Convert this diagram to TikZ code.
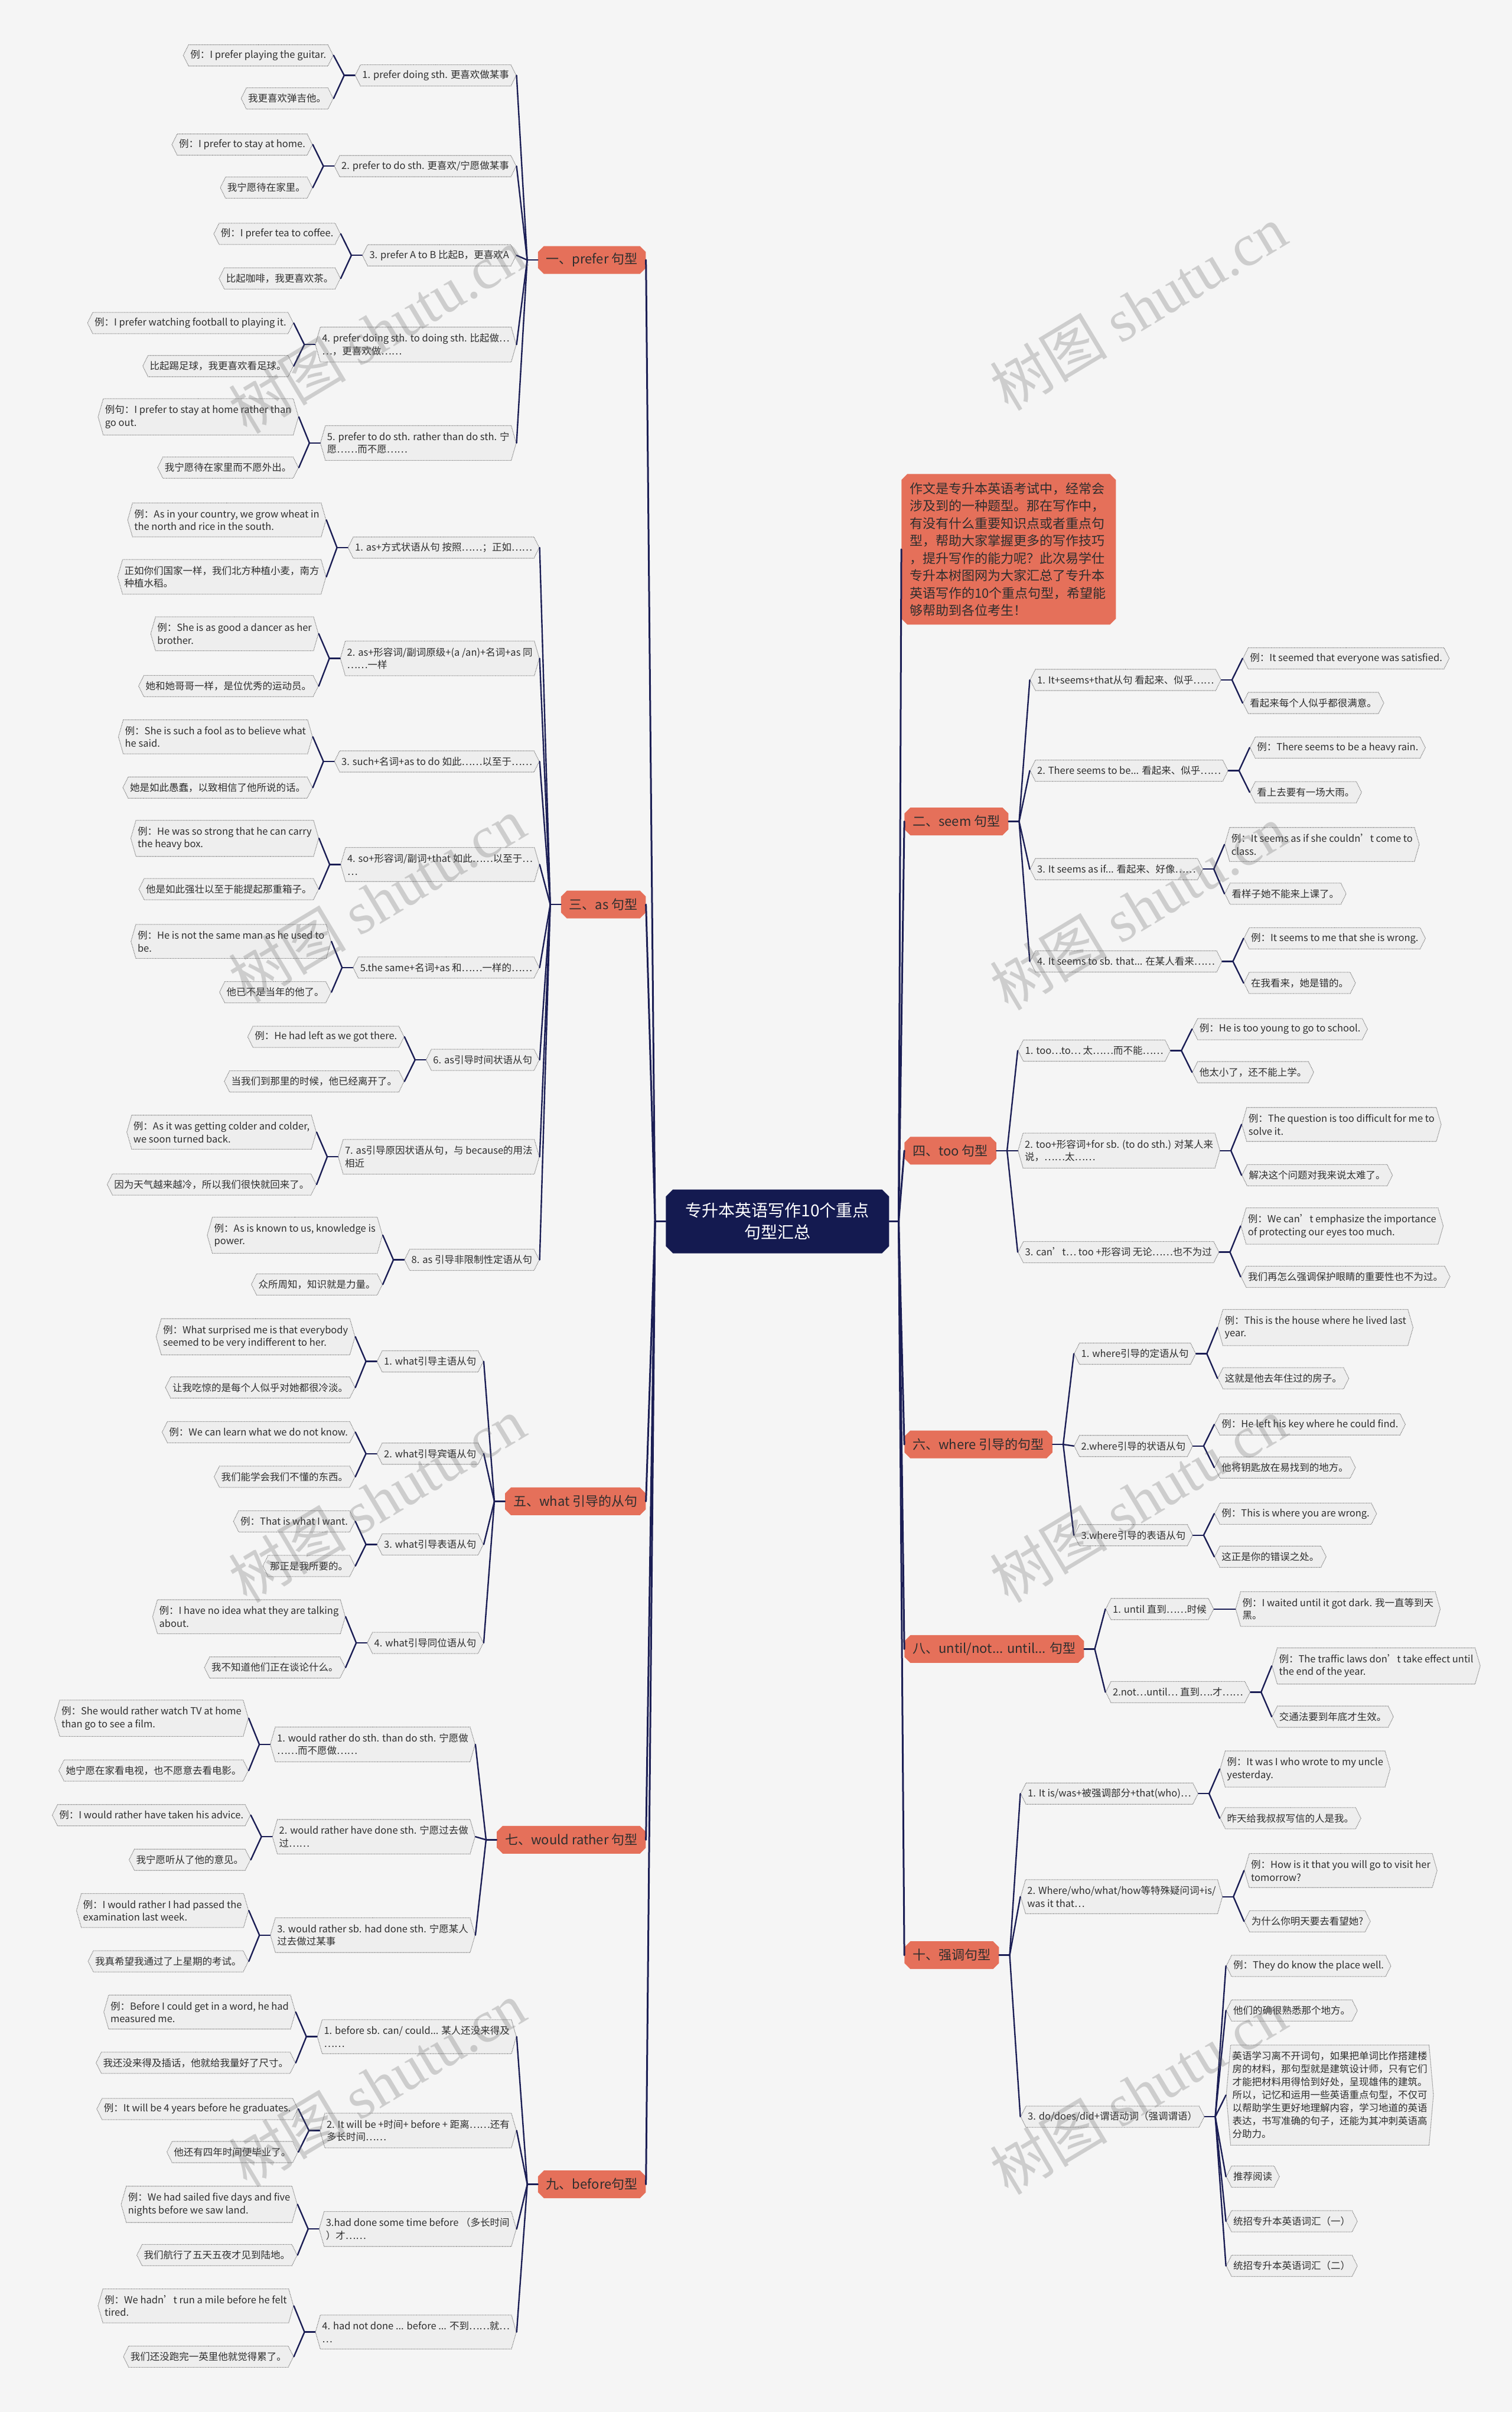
\documentclass[tikz,border=0pt]{standalone}
\usepackage{fontspec}
\setmainfont{Noto Sans CJK SC}
\newfontfamily\wmlatin{Liberation Serif}
\usetikzlibrary{shapes.symbols,shapes.misc}

\definecolor{paper}{HTML}{F5F5F5}
\definecolor{leafgray}{HTML}{EEEEEE}
\definecolor{edgegray}{HTML}{8C8C8C}
\definecolor{coral}{HTML}{E5705A}
\definecolor{navy}{HTML}{1B1E55}
\definecolor{rootnavy}{HTML}{141A50}
\definecolor{ink}{HTML}{2E2E2E}

\tikzset{
  hexa/.style={signal, signal to=east and west, signal pointer angle=127,
    draw=edgegray, fill=leafgray, line width=1.1pt, dash pattern=on 1.6pt off 1pt,
    text=ink, font=\fontsize{16.5}{21.5}\selectfont, align=left,
    inner xsep=3pt, inner ysep=8pt, minimum height=36pt},
  tall/.style={signal pointer angle=148, inner ysep=11pt},
  kidL/.style={hexa, anchor=east, xshift=-36pt},
  kidR/.style={hexa, anchor=west, xshift=36pt},
  branch/.style={chamfered rectangle, chamfered rectangle xsep=5pt,
    chamfered rectangle ysep=5pt, fill=coral, text=ink,
    font=\fontsize{22}{29}\selectfont, minimum height=47pt, inner xsep=9pt},
  root/.style={chamfered rectangle, chamfered rectangle xsep=6pt,
    chamfered rectangle ysep=6pt, fill=rootnavy, text=white, align=center,
    font=\fontsize{28}{37}\selectfont, minimum width=378pt, minimum height=108pt},
  link/.style={draw=navy, line width=2.4pt, line cap=round},
  trunk/.style={draw=navy, line width=3pt, line cap=round},
  wmark/.style={rotate=31, text=black!60, text opacity=0.28,
    font=\fontsize{100}{100}\selectfont},
}

\newcommand{\forkL}[2]{%
  \draw[link] (#1.west) -- ++(-18pt,0) coordinate (#1j);
  \foreach \k in {#2}{\draw[link] (#1j) -- (\k.east);}%
}
\newcommand{\forkR}[2]{%
  \draw[link] (#1.east) -- ++(18pt,0) coordinate (#1j);
  \foreach \k in {#2}{\draw[link] (#1j) -- (\k.west);}%
}

\begin{document}
\begin{tikzpicture}[x=2.604pt,y=-2.604pt]
\useasboundingbox (0,0) rectangle (983,1568);
\fill[paper] (0,0) rectangle (983,1568);

\node[root] (root) at (505.5,794) {专升本英语写作10个重点\\句型汇总};

\node[branch,anchor=east] (br1) at (420,169) {一、prefer 句型};
\node[branch,anchor=east] (br3) at (420,588) {三、as 句型};
\node[branch,anchor=east] (br5) at (420,976) {五、what 引导的从句};
\node[branch,anchor=east] (br7) at (420,1196) {七、would rather 句型};
\node[branch,anchor=east] (br9) at (420,1420) {九、before句型};

\node[branch,anchor=north west,align=left,text width=335pt,inner ysep=9pt,
  font=\fontsize{22}{29.5}\selectfont] (intro) at (588,310)
  {作文是专升本英语考试中，经常会\\涉及到的一种题型。那在写作中，\\有没有什么重要知识点或者重点句\\型，帮助大家掌握更多的写作技巧\\，提升写作的能力呢？此次易学仕\\专升本树图网为大家汇总了专升本\\英语写作的10个重点句型，希望能\\够帮助到各位考生！};
\node[branch,anchor=west] (br2) at (588,534) {二、seem 句型};
\node[branch,anchor=west] (br4) at (588,748) {四、too 句型};
\node[branch,anchor=west] (br6) at (588,939) {六、where 引导的句型};
\node[branch,anchor=west] (br8) at (588,1072) {八、until/not... until... 句型};
\node[branch,anchor=west] (br10) at (588,1271) {十、强调句型};

% prefer
\node[kidL] (p1) at (br1.west |- 0,49) {1. prefer doing sth. 更喜欢做某事};
\node[kidL] (p2) at (br1.west |- 0,108) {2. prefer to do sth. 更喜欢/宁愿做某事};
\node[kidL] (p3) at (br1.west |- 0,166) {3. prefer A to B 比起B，更喜欢A};
\node[kidL,tall] (p4) at (br1.west |- 0,224) {4. prefer doing sth. to doing sth. 比起做…\\…，更喜欢做……};
\node[kidL,tall] (p5) at (br1.west |- 0,288) {5. prefer to do sth. rather than do sth. 宁\\愿……而不愿……};
\node[kidL] (p1a) at (p1.west |- 0,36) {例：I prefer playing the guitar.};
\node[kidL] (p1b) at (p1.west |- 0,64) {我更喜欢弹吉他。};
\node[kidL] (p2a) at (p2.west |- 0,94) {例：I prefer to stay at home.};
\node[kidL] (p2b) at (p2.west |- 0,122) {我宁愿待在家里。};
\node[kidL] (p3a) at (p3.west |- 0,152) {例：I prefer tea to coffee.};
\node[kidL] (p3b) at (p3.west |- 0,181) {比起咖啡，我更喜欢茶。};
\node[kidL] (p4a) at (p4.west |- 0,210) {例：I prefer watching football to playing it.};
\node[kidL] (p4b) at (p4.west |- 0,238) {比起踢足球，我更喜欢看足球。};
\node[kidL,tall] (p5a) at (p5.west |- 0,271) {例句：I prefer to stay at home rather than\\go out.};
\node[kidL] (p5b) at (p5.west |- 0,304) {我宁愿待在家里而不愿外出。};

% as
\node[kidL] (a1) at (br3.west |- 0,356) {1. as+方式状语从句 按照……；正如……};
\node[kidL,tall] (a2) at (br3.west |- 0,428) {2. as+形容词/副词原级+(a /an)+名词+as 同\\……一样};
\node[kidL] (a3) at (br3.west |- 0,495) {3. such+名词+as to do 如此……以至于……};
\node[kidL,tall] (a4) at (br3.west |- 0,562) {4. so+形容词/副词+that 如此……以至于…\\…};
\node[kidL] (a5) at (br3.west |- 0,629) {5.the same+名词+as 和……一样的……};
\node[kidL] (a6) at (br3.west |- 0,689) {6. as引导时间状语从句};
\node[kidL,tall] (a7) at (br3.west |- 0,752) {7. as引导原因状语从句，与 because的用法\\相近};
\node[kidL] (a8) at (br3.west |- 0,819) {8. as 引导非限制性定语从句};
\node[kidL,tall] (a1a) at (a1.west |- 0,338) {例：As in your country, we grow wheat in\\the north and rice in the south.};
\node[kidL,tall] (a1b) at (a1.west |- 0,375) {正如你们国家一样，我们北方种植小麦，南方\\种植水稻。};
\node[kidL,tall] (a2a) at (a2.west |- 0,412) {例：She is as good a dancer as her\\brother.};
\node[kidL] (a2b) at (a2.west |- 0,446) {她和她哥哥一样，是位优秀的运动员。};
\node[kidL,tall] (a3a) at (a3.west |- 0,479) {例：She is such a fool as to believe what\\he said.};
\node[kidL] (a3b) at (a3.west |- 0,512) {她是如此愚蠢，以致相信了他所说的话。};
\node[kidL,tall] (a4a) at (a4.west |- 0,545) {例：He was so strong that he can carry\\the heavy box.};
\node[kidL] (a4b) at (a4.west |- 0,578) {他是如此强壮以至于能提起那重箱子。};
\node[kidL,tall] (a5a) at (a5.west |- 0,612) {例：He is not the same man as he used to\\be.};
\node[kidL] (a5b) at (a5.west |- 0,645) {他已不是当年的他了。};
\node[kidL] (a6a) at (a6.west |- 0,674) {例：He had left as we got there.};
\node[kidL] (a6b) at (a6.west |- 0,703) {当我们到那里的时候，他已经离开了。};
\node[kidL,tall] (a7a) at (a7.west |- 0,736) {例：As it was getting colder and colder,\\we soon turned back.};
\node[kidL] (a7b) at (a7.west |- 0,770) {因为天气越来越冷，所以我们很快就回来了。};
\node[kidL,tall] (a8a) at (a8.west |- 0,803) {例：As is known to us, knowledge is\\power.};
\node[kidL] (a8b) at (a8.west |- 0,835) {众所周知，知识就是力量。};

% what
\node[kidL] (w1) at (br5.west |- 0,885) {1. what引导主语从句};
\node[kidL] (w2) at (br5.west |- 0,945) {2. what引导宾语从句};
\node[kidL] (w3) at (br5.west |- 0,1004) {3. what引导表语从句};
\node[kidL] (w4) at (br5.west |- 0,1068) {4. what引导同位语从句};
\node[kidL,tall] (w1a) at (w1.west |- 0,869) {例：What surprised me is that everybody\\seemed to be very indifferent to her.};
\node[kidL] (w1b) at (w1.west |- 0,902) {让我吃惊的是每个人似乎对她都很冷淡。};
\node[kidL] (w2a) at (w2.west |- 0,931) {例：We can learn what we do not know.};
\node[kidL] (w2b) at (w2.west |- 0,960) {我们能学会我们不懂的东西。};
\node[kidL] (w3a) at (w3.west |- 0,989) {例：That is what I want.};
\node[kidL] (w3b) at (w3.west |- 0,1018) {那正是我所要的。};
\node[kidL,tall] (w4a) at (w4.west |- 0,1051) {例：I have no idea what they are talking\\about.};
\node[kidL] (w4b) at (w4.west |- 0,1084) {我不知道他们正在谈论什么。};

% would rather
\node[kidL,tall] (r1) at (br7.west |- 0,1134) {1. would rather do sth. than do sth. 宁愿做\\……而不愿做……};
\node[kidL,tall] (r2) at (br7.west |- 0,1194) {2. would rather have done sth. 宁愿过去做\\过……};
\node[kidL,tall] (r3) at (br7.west |- 0,1258) {3. would rather sb. had done sth. 宁愿某人\\过去做过某事};
\node[kidL,tall] (r1a) at (r1.west |- 0,1117) {例：She would rather watch TV at home\\than go to see a film.};
\node[kidL] (r1b) at (r1.west |- 0,1151) {她宁愿在家看电视，也不愿意去看电影。};
\node[kidL] (r2a) at (r2.west |- 0,1180) {例：I would rather have taken his advice.};
\node[kidL] (r2b) at (r2.west |- 0,1209) {我宁愿听从了他的意见。};
\node[kidL,tall] (r3a) at (r3.west |- 0,1242) {例：I would rather I had passed the\\examination last week.};
\node[kidL] (r3b) at (r3.west |- 0,1275) {我真希望我通过了上星期的考试。};

% before
\node[kidL,tall] (b1) at (br9.west |- 0,1324) {1. before sb. can/ could... 某人还没来得及\\……};
\node[kidL,tall] (b2) at (br9.west |- 0,1385) {2. It will be +时间+ before + 距离……还有\\多长时间……};
\node[kidL,tall] (b3) at (br9.west |- 0,1449) {3.had done some time before （多长时间\\）才……};
\node[kidL,tall] (b4) at (br9.west |- 0,1516) {4. had not done ... before ... 不到……就…\\…};
\node[kidL,tall] (b1a) at (b1.west |- 0,1308) {例：Before I could get in a word, he had\\measured me.};
\node[kidL] (b1b) at (b1.west |- 0,1341) {我还没来得及插话，他就给我量好了尺寸。};
\node[kidL] (b2a) at (b2.west |- 0,1371) {例：It will be 4 years before he graduates.};
\node[kidL] (b2b) at (b2.west |- 0,1399) {他还有四年时间便毕业了。};
\node[kidL,tall] (b3a) at (b3.west |- 0,1433) {例：We had sailed five days and five\\nights before we saw land.};
\node[kidL] (b3b) at (b3.west |- 0,1466) {我们航行了五天五夜才见到陆地。};
\node[kidL,tall] (b4a) at (b4.west |- 0,1499) {例：We hadn’t run a mile before he felt\\tired.};
\node[kidL] (b4b) at (b4.west |- 0,1532) {我们还没跑完一英里他就觉得累了。};

% seem
\node[kidR] (s1) at (br2.east |- 0,442) {1. It+seems+that从句 看起来、似乎……};
\node[kidR] (s2) at (br2.east |- 0,501) {2. There seems to be... 看起来、似乎……};
\node[kidR] (s3) at (br2.east |- 0,565) {3. It seems as if... 看起来、好像……};
\node[kidR] (s4) at (br2.east |- 0,625) {4. It seems to sb. that... 在某人看来……};
\node[kidR] (s1a) at (s1.east |- 0,428) {例：It seemed that everyone was satisfied.};
\node[kidR] (s1b) at (s1.east |- 0,457) {看起来每个人似乎都很满意。};
\node[kidR] (s2a) at (s2.east |- 0,486) {例：There seems to be a heavy rain.};
\node[kidR] (s2b) at (s2.east |- 0,515) {看上去要有一场大雨。};
\node[kidR,tall] (s3a) at (s3.east |- 0,549) {例：It seems as if she couldn’t come to\\class.};
\node[kidR] (s3b) at (s3.east |- 0,581) {看样子她不能来上课了。};
\node[kidR] (s4a) at (s4.east |- 0,610) {例：It seems to me that she is wrong.};
\node[kidR] (s4b) at (s4.east |- 0,639) {在我看来，她是错的。};

% too
\node[kidR] (t1) at (br4.east |- 0,683) {1. too…to… 太……而不能……};
\node[kidR,tall] (t2) at (br4.east |- 0,748) {2. too+形容词+for sb. (to do sth.) 对某人来\\说，……太……};
\node[kidR] (t3) at (br4.east |- 0,814) {3. can’t… too +形容词 无论……也不为过};
\node[kidR] (t1a) at (t1.east |- 0,669) {例：He is too young to go to school.};
\node[kidR] (t1b) at (t1.east |- 0,697) {他太小了，还不能上学。};
\node[kidR,tall] (t2a) at (t2.east |- 0,731) {例：The question is too difficult for me to\\solve it.};
\node[kidR] (t2b) at (t2.east |- 0,764) {解决这个问题对我来说太难了。};
\node[kidR,tall] (t3a) at (t3.east |- 0,797) {例：We can’t emphasize the importance\\of protecting our eyes too much.};
\node[kidR] (t3b) at (t3.east |- 0,830) {我们再怎么强调保护眼睛的重要性也不为过。};

% where
\node[kidR] (h1) at (br6.east |- 0,880) {1. where引导的定语从句};
\node[kidR] (h2) at (br6.east |- 0,940) {2.where引导的状语从句};
\node[kidR] (h3) at (br6.east |- 0,998) {3.where引导的表语从句};
\node[kidR,tall] (h1a) at (h1.east |- 0,863) {例：This is the house where he lived last\\year.};
\node[kidR] (h1b) at (h1.east |- 0,896) {这就是他去年住过的房子。};
\node[kidR] (h2a) at (h2.east |- 0,926) {例：He left his key where he could find.};
\node[kidR] (h2b) at (h2.east |- 0,954) {他将钥匙放在易找到的地方。};
\node[kidR] (h3a) at (h3.east |- 0,984) {例：This is where you are wrong.};
\node[kidR] (h3b) at (h3.east |- 0,1012) {这正是你的错误之处。};

% until
\node[kidR] (u1) at (br8.east |- 0,1046) {1. until 直到……时候};
\node[kidR] (u2) at (br8.east |- 0,1100) {2.not…until… 直到….才……};
\node[kidR,tall] (u1a) at (u1.east |- 0,1046) {例：I waited until it got dark. 我一直等到天\\黑。};
\node[kidR,tall] (u2a) at (u2.east |- 0,1083) {例：The traffic laws don’t take effect until\\the end of the year.};
\node[kidR] (u2b) at (u2.east |- 0,1116) {交通法要到年底才生效。};

% emphasis
\node[kidR] (e1) at (br10.east |- 0,1166) {1. It is/was+被强调部分+that(who)…};
\node[kidR,tall] (e2) at (br10.east |- 0,1233) {2. Where/who/what/how等特殊疑问词+is/\\was it that…};
\node[kidR] (e3) at (br10.east |- 0,1376) {3. do/does/did+谓语动词（强调谓语）};
\node[kidR,tall] (e1a) at (e1.east |- 0,1150) {例：It was I who wrote to my uncle\\yesterday.};
\node[kidR] (e1b) at (e1.east |- 0,1182) {昨天给我叔叔写信的人是我。};
\node[kidR,tall] (e2a) at (e2.east |- 0,1216) {例：How is it that you will go to visit her\\tomorrow?};
\node[kidR] (e2b) at (e2.east |- 0,1249) {为什么你明天要去看望她?};
\node[kidR] (e3a) at (e3.east |- 0,1278) {例：They do know the place well.};
\node[kidR] (e3b) at (e3.east |- 0,1307) {他们的确很熟悉那个地方。};
\node[kidR,tall,signal pointer angle=170,font=\fontsize{16.5}{22}\selectfont] (e3c) at (e3.east |- 0,1362)
  {英语学习离不开词句，如果把单词比作搭建楼\\房的材料，那句型就是建筑设计师，只有它们\\才能把材料用得恰到好处，呈现雄伟的建筑。\\所以，记忆和运用一些英语重点句型，不仅可\\以帮助学生更好地理解内容，学习地道的英语\\表达，书写准确的句子，还能为其冲刺英语高\\分助力。};
\node[kidR] (e3d) at (e3.east |- 0,1415) {推荐阅读};
\node[kidR] (e3e) at (e3.east |- 0,1444) {统招专升本英语词汇（一）};
\node[kidR] (e3f) at (e3.east |- 0,1473) {统招专升本英语词汇（二）};

\draw[trunk] (root.west) -- ++(-18pt,0) coordinate (rootL);
\foreach \b in {br1,br3,br5,br7,br9}{\draw[trunk] (rootL) -- (\b.east);}
\draw[trunk] (root.east) -- ++(16pt,0) coordinate (rootR);
\foreach \b in {intro,br2,br4,br6,br8,br10}{\draw[trunk] (rootR) -- (\b.west);}

\forkL{br1}{p1,p2,p3,p4,p5}
\forkL{p1}{p1a,p1b} \forkL{p2}{p2a,p2b} \forkL{p3}{p3a,p3b}
\forkL{p4}{p4a,p4b} \forkL{p5}{p5a,p5b}
\forkL{br3}{a1,a2,a3,a4,a5,a6,a7,a8}
\forkL{a1}{a1a,a1b} \forkL{a2}{a2a,a2b} \forkL{a3}{a3a,a3b} \forkL{a4}{a4a,a4b}
\forkL{a5}{a5a,a5b} \forkL{a6}{a6a,a6b} \forkL{a7}{a7a,a7b} \forkL{a8}{a8a,a8b}
\forkL{br5}{w1,w2,w3,w4}
\forkL{w1}{w1a,w1b} \forkL{w2}{w2a,w2b} \forkL{w3}{w3a,w3b} \forkL{w4}{w4a,w4b}
\forkL{br7}{r1,r2,r3}
\forkL{r1}{r1a,r1b} \forkL{r2}{r2a,r2b} \forkL{r3}{r3a,r3b}
\forkL{br9}{b1,b2,b3,b4}
\forkL{b1}{b1a,b1b} \forkL{b2}{b2a,b2b} \forkL{b3}{b3a,b3b} \forkL{b4}{b4a,b4b}

\forkR{br2}{s1,s2,s3,s4}
\forkR{s1}{s1a,s1b} \forkR{s2}{s2a,s2b} \forkR{s3}{s3a,s3b} \forkR{s4}{s4a,s4b}
\forkR{br4}{t1,t2,t3}
\forkR{t1}{t1a,t1b} \forkR{t2}{t2a,t2b} \forkR{t3}{t3a,t3b}
\forkR{br6}{h1,h2,h3}
\forkR{h1}{h1a,h1b} \forkR{h2}{h2a,h2b} \forkR{h3}{h3a,h3b}
\forkR{br8}{u1,u2}
\forkR{u1}{u1a} \forkR{u2}{u2a,u2b}
\forkR{br10}{e1,e2,e3}
\forkR{e1}{e1a,e1b} \forkR{e2}{e2a,e2b}
\forkR{e3}{e3a,e3b,e3c,e3d,e3e,e3f}

\foreach \wx/\wy [count=\i] in {245/215,740/200,245/585,740/590,245/975,740/975,245/1355,740/1360}
  {\node[wmark] (wm\i) at (\wx,\wy) {树图 {\wmlatin shutu.cn}};}
\end{tikzpicture}
\end{document}
